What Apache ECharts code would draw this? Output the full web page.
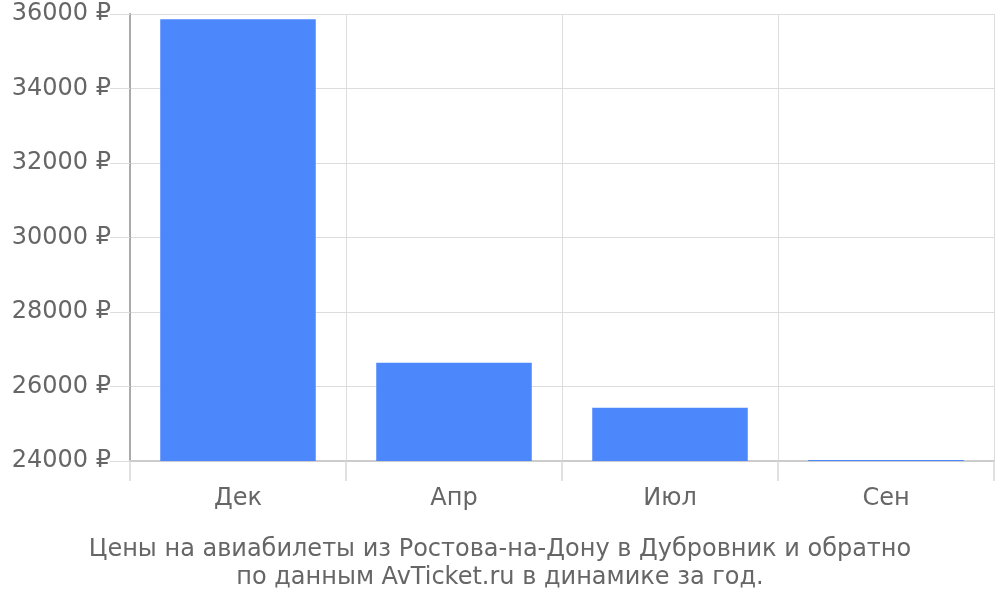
<!DOCTYPE html>
<html lang="ru">
<head>
    <meta charset="UTF-8">
    <title>Цены на авиабилеты</title>
    <script src="https://cdn.jsdelivr.net/npm/echarts/dist/echarts.min.js"></script>
    <style>
        html, body { margin: 0; padding: 0; background: #fff; }
        #chart { width: 1000px; height: 600px; }
    </style>
</head>
<body>
    <div id="chart"></div>
    <script>
        const months = ['Дек', 'Апр', 'Июл', 'Сен'];
        const prices = [35860, 26640, 25430, 24030];
        const titleLines = [
            'Цены на авиабилеты из Ростова-на-Дону в Дубровник и обратно',
            'по данным AvTicket.ru в динамике за год.'
        ];

        let chart = echarts.init(document.getElementById('chart'));

        let option = {
            animation: false,
            textStyle: { fontFamily: 'DejaVu Sans' },
            title: {
                text: titleLines.join('\n'),
                left: 'center',
                top: 531,
                textStyle: {
                    color: '#666',
                    fontSize: 24,
                    fontWeight: 'normal',
                    lineHeight: 28,
                    fontFamily: 'DejaVu Sans'
                }
            },
            grid: { left: 130, right: 6, top: 14, bottom: 139, outerBoundsMode: 'none' },
            xAxis: {
                type: 'category',
                data: months,
                axisLine: { lineStyle: { color: '#ccc', width: 2 } },
                axisTick: { show: true, length: 20, lineStyle: { color: '#d8d8d8', width: 1.5 } },
                splitLine: { show: true, lineStyle: { color: '#ddd' } },
                axisLabel: { color: '#666', fontSize: 24, margin: 26 }
            },
            yAxis: {
                type: 'value',
                min: 24000,
                max: 36000,
                interval: 2000,
                axisLine: { show: true, lineStyle: { color: '#aaa', width: 2 } },
                axisTick: { show: true, length: 20, lineStyle: { color: '#ddd' } },
                splitLine: { lineStyle: { color: '#ddd' } },
                axisLabel: {
                    color: '#666',
                    fontSize: 24,
                    margin: 19,
                    formatter: v => v + ' ₽'
                }
            },
            series: [{
                type: 'bar',
                data: prices,
                barCategoryGap: '28%',
                itemStyle: { color: '#4c88fb' }
            }]
        };

        chart.setOption(option);
    </script>
</body>
</html>
